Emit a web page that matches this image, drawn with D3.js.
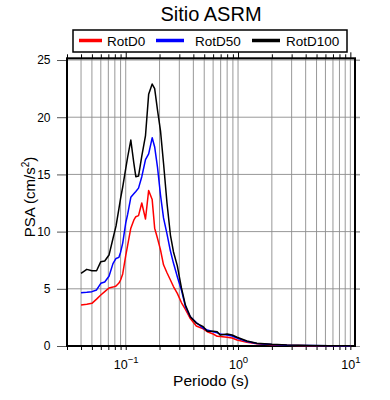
<!DOCTYPE html>
<html>
<head>
<meta charset="utf-8">
<script src="https://cdn.jsdelivr.net/npm/d3@7"></script>
<style>
  body { margin: 0; background: #fff; }
  svg { font-family: "Liberation Sans", Arial, sans-serif; }
</style>
</head>
<body>
<svg id="chart" width="390" height="400"></svg>
<script>
// periods (s)
const periods = [0.040, 0.045, 0.050, 0.055, 0.060, 0.065, 0.071, 0.077, 0.082, 0.087,
    0.090, 0.094, 0.100, 0.104, 0.111, 0.118, 0.123, 0.130, 0.139, 0.150,
    0.160, 0.172, 0.181, 0.192, 0.204, 0.217, 0.233, 0.250, 0.266, 0.288,
    0.313, 0.340, 0.376, 0.425, 0.490, 0.532, 0.601, 0.652, 0.693, 0.799,
    0.885, 0.980, 1.20, 1.47, 2.0, 2.72, 4.34, 6.52, 10.0];

const rotD0 = [3.58, 3.65, 3.73, 4.1, 4.46, 4.75, 5.07, 5.15, 5.25, 5.5,
    5.77, 6.3, 7.9, 8.8, 10.3, 11.0, 11.3, 11.4, 12.5, 11.1,
    13.6, 12.8, 10.3, 9.4, 8.4, 7.1, 6.4, 5.77, 5.2, 4.6,
    3.8, 3.2, 2.4, 1.75, 1.5, 1.25, 1.05, 0.85, 0.82, 0.76,
    0.7, 0.52, 0.32, 0.2, 0.11, 0.06, 0.03, 0.02, 0.01];

const rotD50 = [4.66, 4.7, 4.75, 4.9, 5.48, 5.6, 6.1, 7.2, 7.65, 7.75,
    8.2, 9.0, 10.75, 11.5, 13.0, 13.3, 13.5, 13.8, 14.8, 16.3,
    16.8, 18.2, 17.4, 15.6, 13.2, 11.2, 9.8, 8.3, 7.25, 6.06,
    4.9, 3.44, 2.56, 2.05, 1.55, 1.4, 1.25, 1.15, 1.05, 0.95,
    0.88, 0.7, 0.4, 0.22, 0.13, 0.07, 0.04, 0.02, 0.01];

const rotD100 = [6.35, 6.7, 6.58, 6.58, 7.37, 7.43, 7.95, 9.4, 10.5, 12.0,
    12.9, 13.9, 15.5, 16.5, 18.0, 16.0, 14.8, 14.86, 16.6, 18.4,
    22.0, 22.9, 22.5, 20.6, 18.8, 16.0, 12.5, 9.7, 8.24, 7.0,
    5.1, 3.58, 2.56, 2.0, 1.69, 1.3, 1.3, 1.25, 0.96, 1.05,
    0.96, 0.76, 0.44, 0.24, 0.15, 0.09, 0.05, 0.03, 0.02];

const seriesNames = ['RotD0', 'RotD50', 'RotD100'];
const seriesColors = ['#ff0000', '#0000ff', '#000000'];
const yTicks = [0, 5, 10, 15, 20, 25];
const xDecades = [0.1, 1, 10];
const xDecadeExp = ['\u22121', '0', '1'];

const margin = { top: 58.3, right: 35, bottom: 54, left: 67 };
const W = 390, H = 400;
const width = W - margin.left - margin.right;
const height = H - margin.top - margin.bottom;

const svg = d3.select('#chart');
const g = svg.append('g').attr('transform', `translate(${margin.left},${margin.top})`);

const x = d3.scaleLog().domain([0.03, 11]).range([0, width]);
const y = d3.scaleLinear().domain([0, 25.15]).range([height, 0]);

// minor tick positions 1..9 per decade
let minor = [];
[0.01, 0.1, 1, 10].forEach(d => {
    for (let k = 1; k <= 9; k++) {
        let v = +(k * d).toPrecision(3);
        if (v >= 0.03 && v <= 11) minor.push(v);
    }
});

// grid
g.append('g').selectAll('line.vg').data(minor).enter().append('line')
    .attr('x1', d => x(d)).attr('x2', d => x(d))
    .attr('y1', 0).attr('y2', height)
    .attr('stroke', '#8c8c8c').attr('stroke-width', 0.9);
g.append('g').selectAll('line.hg').data(yTicks.slice(1)).enter().append('line')
    .attr('x1', 0).attr('x2', width + 5)
    .attr('y1', d => y(d)).attr('y2', d => y(d))
    .attr('stroke', '#8c8c8c').attr('stroke-width', 0.9);

// bottom axis
const xAxis = g.append('g')
    .attr('transform', `translate(0,${height})`)
    .call(d3.axisBottom(x).tickValues(minor).tickSize(4).tickPadding(6).tickFormat(''));
xAxis.select('.domain').remove();
xAxis.selectAll('.tick')
    .filter(d => xDecades.indexOf(d) >= 0)
    .select('text')
    .each(function (d) {
        const t = d3.select(this);
        t.append('tspan').text('10');
        t.append('tspan').attr('dy', -6).attr('font-size', 9.5).text(xDecadeExp[xDecades.indexOf(d)]);
    })
    .attr('font-size', 12.5).attr('fill', '#000').attr('dy', '1.05em');

// top axis
const xTop = g.append('g')
    .call(d3.axisTop(x).tickValues(minor).tickSize(4).tickFormat(''));
xTop.select('.domain').remove();
xTop.selectAll('.tick line').attr('y2', d => xDecades.indexOf(d) >= 0 ? -6 : -4);

// left axis
const yAxis = g.append('g')
    .call(d3.axisLeft(y).tickValues(yTicks).tickSize(10).tickPadding(6.5));
yAxis.select('.domain').remove();
yAxis.selectAll('.tick line').attr('stroke', '#555');
yAxis.selectAll('.tick text').attr('font-size', 12).attr('fill', '#000')
    .attr('font-family', '"Liberation Sans", Arial, sans-serif');

// right axis
const yRight = g.append('g')
    .attr('transform', `translate(${width},0)`)
    .call(d3.axisRight(y).tickValues(yTicks).tickSize(5).tickFormat(''));
yRight.select('.domain').remove();
yRight.selectAll('.tick line').attr('stroke', '#999');

// frame
g.append('rect')
    .attr('x', 0).attr('y', 0).attr('width', width).attr('height', height)
    .attr('fill', 'none').attr('stroke', '#000').attr('stroke-width', 2);

// curves
const line = d3.line()
    .x((d, i) => x(periods[i]))
    .y(d => y(d));

[rotD0, rotD50, rotD100].forEach((s, i) => {
    g.append('path')
        .datum(s)
        .attr('d', line)
        .attr('fill', 'none')
        .attr('stroke', seriesColors[i])
        .attr('stroke-width', 1.5)
        .attr('stroke-linejoin', 'round');
});

// title
svg.append('text')
    .attr('x', 211).attr('y', 21)
    .attr('text-anchor', 'middle')
    .attr('font-size', 20)
    .text('Sitio ASRM');

// legend
const legend = svg.append('g');
legend.append('rect')
    .attr('x', 73).attr('y', 30).attr('width', 274).attr('height', 22)
    .attr('fill', '#fff').attr('stroke', '#000').attr('stroke-width', 1.5);
const legX = [[79, 102, 107], [156, 184, 195], [252, 280, 286]];
seriesNames.forEach((n, i) => {
    legend.append('line')
        .attr('x1', legX[i][0]).attr('x2', legX[i][1])
        .attr('y1', 40.5).attr('y2', 40.5)
        .attr('stroke', seriesColors[i]).attr('stroke-width', 3.5);
    legend.append('text')
        .attr('x', legX[i][2]).attr('y', 45.5)
        .attr('font-size', 13.5)
        .text(n);
});

// axis labels
svg.append('text')
    .attr('x', 211).attr('y', 386)
    .attr('text-anchor', 'middle')
    .attr('font-size', 15.5)
    .text('Periodo (s)');

const yl = svg.append('text')
    .attr('transform', 'translate(34.5,197) rotate(-90)')
    .attr('text-anchor', 'middle')
    .attr('font-size', 15);
yl.append('tspan').text('PSA (cm/s');
yl.append('tspan').attr('dy', -6).attr('font-size', 10).text('2');
yl.append('tspan').attr('dy', 6).text(')');
</script>
</body>
</html>
